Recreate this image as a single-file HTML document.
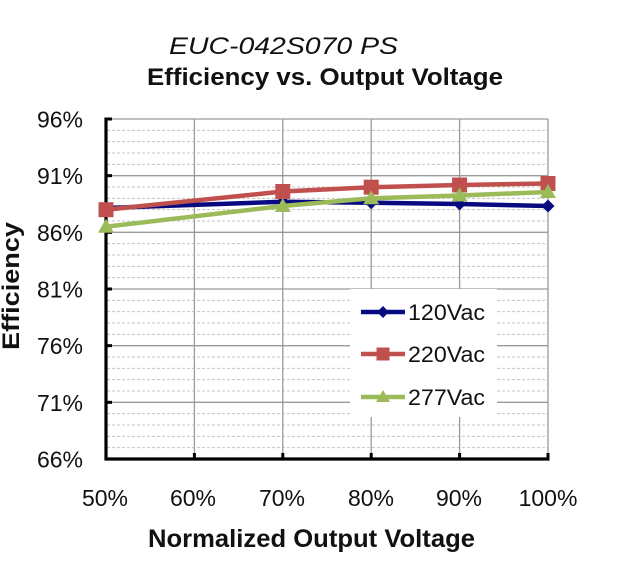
<!DOCTYPE html>
<html>
<head>
<meta charset="utf-8">
<style>
html,body{margin:0;padding:0;background:#fff;}
svg{display:block;}
text{font-family:"Liberation Sans",Arial,sans-serif;fill:#111;}
</style>
</head>
<body>
<svg width="640" height="582" viewBox="0 0 640 582" xmlns="http://www.w3.org/2000/svg">
<rect x="0" y="0" width="640" height="582" fill="#fff"/>

<!-- Titles -->
<text x="169" y="54" font-size="24" font-style="italic" textLength="229" lengthAdjust="spacingAndGlyphs">EUC-042S070 PS</text>
<text x="147" y="85" font-size="24" font-weight="bold" textLength="356" lengthAdjust="spacingAndGlyphs">Efficiency vs. Output Voltage</text>

<!-- minor dashed gridlines -->
<g stroke="#c4c4c4" stroke-width="1" stroke-dasharray="3,2">
<line x1="107" x2="548" y1="130.33" y2="130.33"/>
<line x1="107" x2="548" y1="141.67" y2="141.67"/>
<line x1="107" x2="548" y1="153" y2="153"/>
<line x1="107" x2="548" y1="164.33" y2="164.33"/>
<line x1="107" x2="548" y1="187" y2="187"/>
<line x1="107" x2="548" y1="198.33" y2="198.33"/>
<line x1="107" x2="548" y1="209.67" y2="209.67"/>
<line x1="107" x2="548" y1="221" y2="221"/>
<line x1="107" x2="548" y1="243.67" y2="243.67"/>
<line x1="107" x2="548" y1="255" y2="255"/>
<line x1="107" x2="548" y1="266.33" y2="266.33"/>
<line x1="107" x2="548" y1="277.67" y2="277.67"/>
<line x1="107" x2="548" y1="300.33" y2="300.33"/>
<line x1="107" x2="548" y1="311.67" y2="311.67"/>
<line x1="107" x2="548" y1="323" y2="323"/>
<line x1="107" x2="548" y1="334.33" y2="334.33"/>
<line x1="107" x2="548" y1="357" y2="357"/>
<line x1="107" x2="548" y1="368.33" y2="368.33"/>
<line x1="107" x2="548" y1="379.67" y2="379.67"/>
<line x1="107" x2="548" y1="391" y2="391"/>
<line x1="107" x2="548" y1="413.67" y2="413.67"/>
<line x1="107" x2="548" y1="425" y2="425"/>
<line x1="107" x2="548" y1="436.33" y2="436.33"/>
<line x1="107" x2="548" y1="447.67" y2="447.67"/>
</g>

<!-- major gridlines -->
<g stroke="#9a9a9a" stroke-width="1.3">
<line x1="106" x2="548" y1="119" y2="119"/>
<line x1="106" x2="548" y1="175.67" y2="175.67"/>
<line x1="106" x2="548" y1="232.33" y2="232.33"/>
<line x1="106" x2="548" y1="289" y2="289"/>
<line x1="106" x2="548" y1="345.67" y2="345.67"/>
<line x1="106" x2="548" y1="402.33" y2="402.33"/>
<line x1="194.4" x2="194.4" y1="119" y2="459"/>
<line x1="282.8" x2="282.8" y1="119" y2="459"/>
<line x1="371.2" x2="371.2" y1="119" y2="459"/>
<line x1="459.6" x2="459.6" y1="119" y2="459"/>
<line x1="548" x2="548" y1="119" y2="459"/>
</g>

<!-- legend background -->
<rect x="350" y="289" width="147" height="128" fill="#fff"/>

<!-- axes -->
<g stroke="#000" stroke-width="3.2" fill="none">
<line x1="106" x2="106" y1="117.5" y2="460.5"/>
<line x1="104.5" x2="549.5" y1="459" y2="459"/>
</g>
<g stroke="#000" stroke-width="3">
<line x1="106" x2="112" y1="119" y2="119"/>
<line x1="106" x2="112" y1="175.67" y2="175.67"/>
<line x1="106" x2="112" y1="232.33" y2="232.33"/>
<line x1="106" x2="112" y1="289" y2="289"/>
<line x1="106" x2="112" y1="345.67" y2="345.67"/>
<line x1="106" x2="112" y1="402.33" y2="402.33"/>
<line x1="194.4" x2="194.4" y1="459" y2="453"/>
<line x1="282.8" x2="282.8" y1="459" y2="453"/>
<line x1="371.2" x2="371.2" y1="459" y2="453"/>
<line x1="459.6" x2="459.6" y1="459" y2="453"/>
<line x1="548" x2="548" y1="459" y2="453"/>
</g>

<!-- y labels -->
<g font-size="23" text-anchor="end" fill="#222">
<text x="83" y="127.5">96%</text>
<text x="83" y="184.2">91%</text>
<text x="83" y="240.8">86%</text>
<text x="83" y="297.5">81%</text>
<text x="83" y="354.2">76%</text>
<text x="83" y="410.8">71%</text>
<text x="83" y="467.5">66%</text>
</g>

<!-- x labels -->
<g font-size="23" text-anchor="middle" fill="#222">
<text x="105" y="506">50%</text>
<text x="193" y="506">60%</text>
<text x="282" y="506">70%</text>
<text x="371" y="506">80%</text>
<text x="459" y="506">90%</text>
<text x="548" y="506">100%</text>
</g>

<!-- axis titles -->
<text x="148" y="547" font-size="25" font-weight="bold" textLength="327" lengthAdjust="spacingAndGlyphs">Normalized Output Voltage</text>
<text transform="translate(19,350) rotate(-90)" x="0" y="0" font-size="24" font-weight="bold" textLength="128" lengthAdjust="spacingAndGlyphs">Efficiency</text>

<!-- series: 120Vac (blue) -->
<polyline points="106,208 282.8,201.7 371.2,202.7 459.6,204 548,206" fill="none" stroke="#0a0a80" stroke-width="4.5" stroke-linejoin="round"/>
<g fill="#0a0a80">
<polygon points="106,201.5 112.5,208 106,214.5 99.5,208"/>
<polygon points="282.8,195.2 289.3,201.7 282.8,208.2 276.3,201.7"/>
<polygon points="371.2,196.2 377.7,202.7 371.2,209.2 364.7,202.7"/>
<polygon points="459.6,197.5 466.1,204 459.6,210.5 453.1,204"/>
<polygon points="548,199.5 554.5,206 548,212.5 541.5,206"/>
</g>

<!-- series: 220Vac (red) -->
<polyline points="106,209.7 282.8,191.5 371.2,187.2 459.6,185 548,183.5" fill="none" stroke="#c0504d" stroke-width="4.5" stroke-linejoin="round"/>
<g fill="#c0504d">
<rect x="98.5" y="202.2" width="15" height="15"/>
<rect x="275.3" y="184" width="15" height="15"/>
<rect x="363.7" y="179.7" width="15" height="15"/>
<rect x="452.1" y="177.5" width="15" height="15"/>
<rect x="540.5" y="176" width="15" height="15"/>
</g>

<!-- series: 277Vac (green) -->
<polyline points="106,226.7 282.8,206 371.2,198.3 459.6,195.5 548,192" fill="none" stroke="#9bbb59" stroke-width="4.5" stroke-linejoin="round"/>
<g fill="#9bbb59">
<polygon points="106,218.7 114,232.7 98,232.7"/>
<polygon points="282.8,198 290.8,212 274.8,212"/>
<polygon points="371.2,190.3 379.2,204.3 363.2,204.3"/>
<polygon points="459.6,187.5 467.6,201.5 451.6,201.5"/>
<polygon points="548,184 556,198 540,198"/>
</g>

<!-- legend -->
<g>
<line x1="361" x2="405" y1="312" y2="312" stroke="#0a0a80" stroke-width="4.5"/>
<polygon points="383,306 389,312 383,318 377,312" fill="#0a0a80"/>
<text x="408" y="320" font-size="22" textLength="77" lengthAdjust="spacingAndGlyphs">120Vac</text>

<line x1="361" x2="405" y1="354" y2="354" stroke="#c0504d" stroke-width="4.5"/>
<rect x="376.5" y="347.5" width="13" height="13" fill="#c0504d"/>
<text x="408" y="362" font-size="22" textLength="77" lengthAdjust="spacingAndGlyphs">220Vac</text>

<line x1="361" x2="405" y1="397" y2="397" stroke="#9bbb59" stroke-width="4.5"/>
<polygon points="383,390 390,402 376,402" fill="#9bbb59"/>
<text x="408" y="405" font-size="22" textLength="77" lengthAdjust="spacingAndGlyphs">277Vac</text>
</g>
</svg>
</body>
</html>
